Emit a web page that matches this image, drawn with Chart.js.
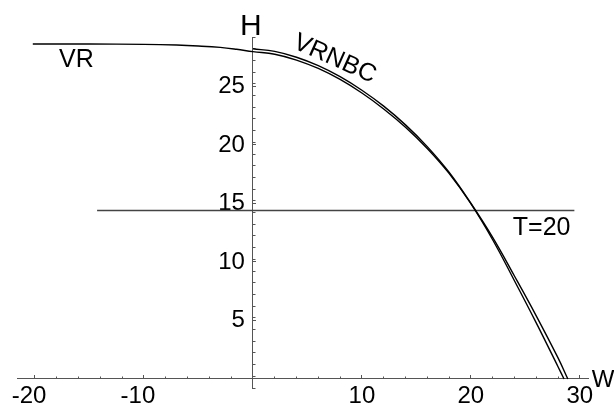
<!DOCTYPE html>
<html>
<head>
<meta charset="utf-8">
<script src="https://cdn.jsdelivr.net/npm/chart.js@4.4.0/dist/chart.umd.min.js"></script>
<style>
  html, body { margin: 0; padding: 0; background: #fff; }
  #wrap { width: 614px; height: 405px; }
</style>
</head>
<body>
<div id="wrap"><canvas id="plot" width="614" height="405"></canvas></div>
<script>
// VR curve
let vrW = [-20.2, -15, -10, -7, -5, -3, -1.5, 0, 2, 4, 6, 8, 10, 12, 14, 16, 18, 20, 22, 24, 26, 28, 28.55];
let vrH = [28.63, 28.63, 28.6, 28.54, 28.46, 28.34, 28.18, 27.98, 27.76, 27.26, 26.54, 25.6, 24.44, 23.08, 21.52, 19.7, 17.57, 14.98, 11.9, 8.4, 4.8, 1.05, 0];
// VRNBC curve, starts at W = 0
let nbcW = [0, 2, 4, 6, 8, 10, 12, 14, 16, 18, 20, 22, 24, 26, 28, 28.9];
let nbcH = [28.22, 28.0, 27.5, 26.78, 25.84, 24.68, 23.32, 21.72, 19.86, 17.67, 15.02, 12.1, 8.8, 5.4, 1.8, 0];
// T=20 level
let tW = [-14.3, 29.5];
let tH = [14.4, 14.4];
// tick labels
let wTicks = [-20, -10, 10, 20, 30];
let hTicks = [5, 10, 15, 20, 25];

const FONT = "'Liberation Sans', Arial, sans-serif";
const AXIS = '#555';

function pts(xs, ys) {
    return xs.map((v, i) => ({ x: v, y: ys[i] }));
}

// text labels on the plot, placed through the scales
const plotText = {
    id: 'plotText',
    afterDraw(chart) {
        const ctx = chart.ctx;
        const x = chart.scales.x;
        const y = chart.scales.y;
        function put(txt, w, h, size, align, angle) {
            ctx.save();
            ctx.font = size + 'px ' + FONT;
            ctx.fillStyle = '#000';
            ctx.textAlign = align;
            ctx.textBaseline = angle ? 'middle' : 'alphabetic';
            ctx.translate(x.getPixelForValue(w), y.getPixelForValue(h));
            if (angle) ctx.rotate(angle * Math.PI / 180);
            ctx.fillText(txt, 0, 0);
            ctx.restore();
        }
        put('H', -0.18, 29.4, 30, 'center');
        put('W', 31.1, -0.68, 24, 'left');
        put('VR', -17.8, 26.67, 25, 'left');
        put('T=20', 23.85, 12.3, 25, 'left');
        put('VRNBC', 7.52, 27.35, 25, 'center', 24);
    }
};

// axes sit on the origin, so they take no room in the layout
function noRoom(s) {
    if (s.isHorizontal()) s.height = 0; else s.width = 0;
    s.paddingTop = 0;
    s.paddingBottom = 0;
    s.paddingLeft = 0;
    s.paddingRight = 0;
}

let ctx = document.getElementById('plot').getContext('2d');
let chart = new Chart(ctx, {
    type: 'line',
    data: {
        datasets: [
            { label: 'VR', data: pts(vrW, vrH), borderColor: '#000', borderWidth: 1.4, pointRadius: 0, tension: 0.4 },
            { label: 'VRNBC', data: pts(nbcW, nbcH), borderColor: '#000', borderWidth: 1.4, pointRadius: 0, tension: 0.4 },
            { label: 'T=20', data: pts(tW, tH), borderColor: '#444', borderWidth: 1.4, pointRadius: 0 }
        ]
    },
    plugins: [plotText],
    options: {
        responsive: false,
        animation: false,
        layout: { padding: { left: 17, right: 26, top: 37, bottom: 17 } },
        plugins: { legend: { display: false }, tooltip: { enabled: false } },
        scales: {
            x: {
                type: 'linear', axis: 'x', position: { y: 0 },
                min: -21.65, max: 30.75,
                afterFit: noRoom,
                afterBuildTicks: s => { s.ticks = wTicks.map(v => ({ value: v })); },
                border: { color: AXIS, width: 1 },
                grid: { drawOnChartArea: false, tickLength: -4, tickColor: AXIS },
                ticks: {
                    color: '#000', padding: 7, maxRotation: 0, font: { size: 24, family: FONT },
                    // minus sign hangs to the left like the original
                    callback: v => v < 0 ? v + '\u2002' : String(v)
                }
            },
            y: {
                type: 'linear', axis: 'y', position: { x: 0 },
                min: -0.77, max: 29.23,
                afterFit: noRoom,
                afterBuildTicks: s => { s.ticks = hTicks.map(v => ({ value: v })); },
                border: { color: AXIS, width: 1 },
                grid: { drawOnChartArea: false, tickLength: -4, tickColor: AXIS },
                ticks: {
                    color: '#000', padding: 15, font: { size: 24, family: FONT },
                    callback: v => v + '\u2004'
                }
            },
            // minor ticks
            x2: {
                type: 'linear', axis: 'x', position: { y: 0 },
                min: -21.65, max: 30.75,
                afterFit: noRoom,
                border: { display: false },
                grid: { drawOnChartArea: false, tickLength: -2.5, tickColor: AXIS },
                ticks: { display: false, stepSize: 2, includeBounds: false }
            },
            y2: {
                type: 'linear', axis: 'y', position: { x: 0 },
                min: -0.77, max: 29.23,
                afterFit: noRoom,
                border: { display: false },
                grid: { drawOnChartArea: false, tickLength: -2.5, tickColor: AXIS },
                ticks: { display: false, stepSize: 1, includeBounds: false }
            }
        }
    }
});
</script>
</body>
</html>
